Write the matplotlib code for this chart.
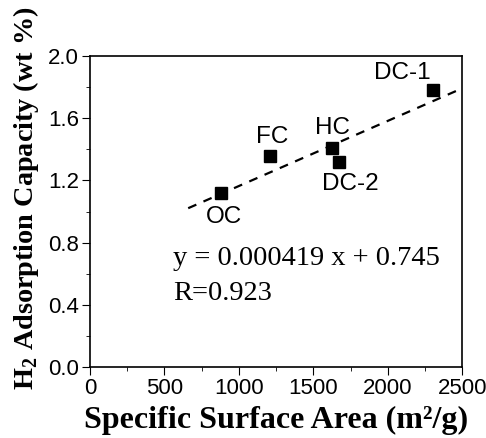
import numpy as np
import matplotlib
matplotlib.use("Agg")
import matplotlib.pyplot as plt
from matplotlib.ticker import MultipleLocator

plt.rcParams["mathtext.fontset"] = "custom"
plt.rcParams["mathtext.bf"] = "Liberation Serif:bold"
plt.rcParams["mathtext.rm"] = "Liberation Serif:bold"

# données
samples = ["OC", "FC", "HC", "DC-2", "DC-1"]
surface = [880, 1210, 1626, 1673, 2305]
capacity = [1.12, 1.36, 1.41, 1.32, 1.78]
label_pos = {"OC": (900, 0.965), "FC": (1223, 1.48), "HC": (1626, 1.54),
             "DC-2": (1747, 1.18), "DC-1": (2097, 1.89)}

slope = 0.000419
intercept = 0.745
fit_x = [660, 2475]

fig = plt.figure(figsize=(4.86, 4.38), dpi=100)
ax = fig.add_axes([0.185, 0.162, 0.766, 0.710])

ax.plot(surface, capacity, "s", color="black", markersize=8.5)
fx = np.array(fit_x)
ax.plot(fx, slope * fx + intercept, "--", color="black", lw=1.6, dashes=(4, 3.5))

sans = "Liberation Sans"
serif = "Liberation Serif"

# étiquettes des points
for s in samples:
    lx, ly = label_pos[s]
    ax.text(lx, ly, s, ha="center", va="center", fontsize=17.5, family=sans)

ax.text(558, 0.70, "y = 0.000419 x + 0.745", fontsize=20.5, family=serif, va="center")
ax.text(558, 0.476, "R=0.923", fontsize=20.5, family=serif, va="center")

ax.set_xlim(0, 2500)
ax.set_ylim(0, 2.0)
ax.set_xticks([0, 500, 1000, 1500, 2000, 2500])
ax.set_yticks([0.0, 0.4, 0.8, 1.2, 1.6, 2.0])
ax.xaxis.set_minor_locator(MultipleLocator(250))
ax.yaxis.set_minor_locator(MultipleLocator(0.2))
ax.tick_params(which="both", direction="out", top=False, right=False)
ax.tick_params(which="major", length=6, labelsize=16, pad=2)
ax.tick_params(which="minor", length=3)
for lab in ax.get_xticklabels() + ax.get_yticklabels():
    lab.set_family(sans)
for sp in ax.spines.values():
    sp.set_linewidth(1.2)

ax.set_xlabel("Specific Surface Area (m²/g)", fontsize=23, fontweight="bold",
              family=serif, labelpad=5)
ax.set_ylabel(r"H$_\mathbf{2}$ Adsorption Capacity (wt %)", fontsize=20.3, fontweight="bold",
              family=serif)
ax.yaxis.set_label_coords(-0.132, 0.543)

fig.savefig("out.png", dpi=100)
